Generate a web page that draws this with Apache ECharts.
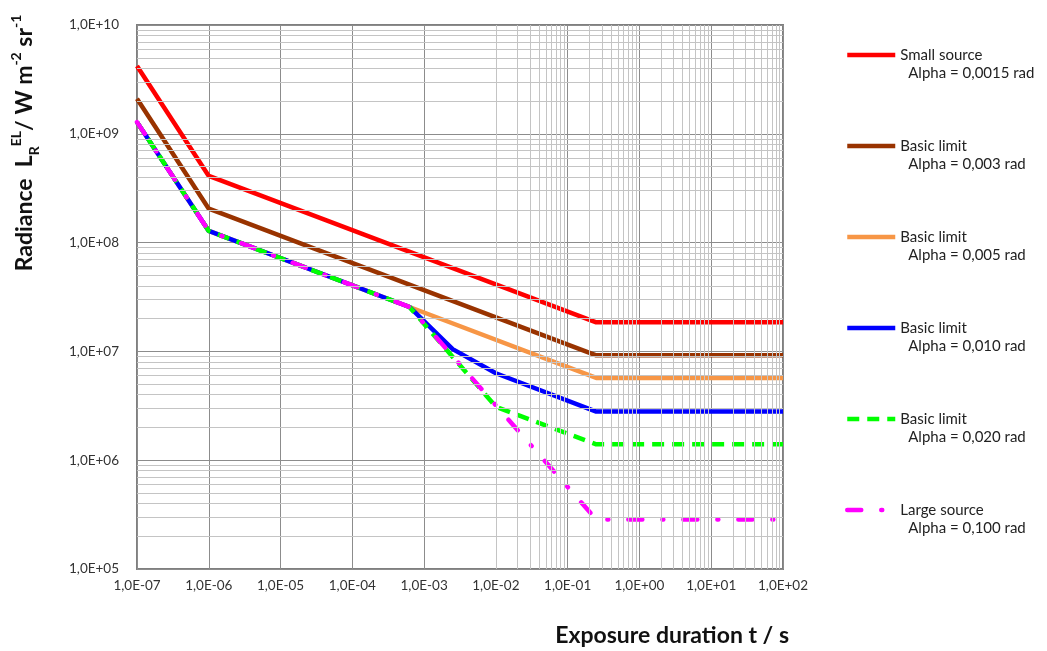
<!DOCTYPE html>
<html>
<head>
<meta charset="utf-8">
<script src="https://cdn.jsdelivr.net/npm/echarts@6/dist/echarts.min.js"></script>
<style>
  html, body { margin: 0; padding: 0; background: #fff; }
  #chart { width: 1047px; height: 651px; }
</style>
</head>
<body>
<div id="chart"></div>
<script>
// exposure duration (s) and radiance (W m-2 sr-1)
var tRed = [1e-7, 1e-6, 0.25, 100];
var lRed = [4.2e9, 4.1e8, 1.85e7, 1.85e7];
var tBrown = [1e-7, 1e-6, 0.25, 100];
var lBrown = [2.1e9, 2.05e8, 9.2e6, 9.2e6];
var tOrange = [1e-7, 1e-6, 6.25e-4, 0.25, 100];
var lOrange = [1.28e9, 1.28e8, 2.56e7, 5.7e6, 5.7e6];
var tBlue = [1e-7, 1e-6, 6.25e-4, 2.5e-3, 1e-2, 0.25, 100];
var lBlue = [1.28e9, 1.28e8, 2.56e7, 1.05e7, 6.3e6, 2.8e6, 2.8e6];
var tGreen = [1e-7, 1e-6, 6.25e-4, 1e-2, 0.25, 100];
var lGreen = [1.28e9, 1.28e8, 2.56e7, 3.1e6, 1.4e6, 1.4e6];
var tMagenta = [1e-7, 1e-6, 6.25e-4, 0.25, 100];
var lMagenta = [1.28e9, 1.28e8, 2.56e7, 2.85e5, 2.85e5];

var names = ['Small source', 'Basic limit', 'Basic limit ', 'Basic limit  ', 'Basic limit   ', 'Large source'];
var alphas = ['Alpha = 0,0015 rad', 'Alpha = 0,003 rad', 'Alpha = 0,005 rad', 'Alpha = 0,010 rad', 'Alpha = 0,020 rad', 'Alpha = 0,100 rad'];
var colors = ['#ff0000', '#993300', '#f79646', '#0000ff', '#00ff00', '#ff00ff'];

var xDecades = [-7, -6, -5, -4, -3, -2, -1, 0, 1];
var yDecades = [5, 6, 7, 8, 9];

function pairs(t, l) {
    return t.map(function (v, i) { return [v, l[i]]; });
}

function fmtExp(v) {
    var e = Math.round(Math.log10(v));
    var s = e < 0 ? '-' : '+';
    var a = Math.abs(e);
    return '1,0E' + s + (a < 10 ? '0' + a : a);
}

// minor log grid lines (2..9 within each decade)
var gridLines = [];
xDecades.forEach(function (d) {
    for (var m = 2; m <= 9; m++) gridLines.push({ xAxis: m * Math.pow(10, d) });
});
yDecades.forEach(function (d) {
    for (var m = 2; m <= 9; m++) gridLines.push({ yAxis: m * Math.pow(10, d) });
});

var font = 'Lato, "Open Sans", sans-serif';

function lineSeries(i, t, l, style) {
    return {
        name: names[i],
        type: 'line',
        data: pairs(t, l),
        symbol: 'none',
        z: 3,
        lineStyle: Object.assign({ color: colors[i], width: 4.5 }, style || {}),
        itemStyle: { color: colors[i] },
        animation: false
    };
}

var dom = document.getElementById('chart');
var myChart = echarts.init(dom, null, { renderer: 'canvas' });

var option = {
    backgroundColor: '#fff',
    animation: false,
    grid: {
        left: 137, top: 25, right: 264, bottom: 82,
        show: true, borderColor: '#7f7f7f', borderWidth: 2,
        backgroundColor: '#fff'
    },
    xAxis: {
        type: 'log', logBase: 10, min: 1e-7, max: 100,
        axisLine: { show: false },
        axisTick: { show: false },
        axisLabel: { formatter: fmtExp, fontFamily: font, fontSize: 13.5, color: '#333', margin: 10 },
        splitLine: { show: true, lineStyle: { color: '#8c8c8c', width: 1 } }
    },
    yAxis: {
        type: 'log', logBase: 10, min: 1e5, max: 1e10,
        axisLine: { show: false },
        axisTick: { show: false },
        axisLabel: { formatter: fmtExp, fontFamily: font, fontSize: 13.5, color: '#333', margin: 18 },
        splitLine: { show: true, lineStyle: { color: '#8c8c8c', width: 1 } }
    },
    legend: {
        orient: 'vertical',
        left: 845, top: 28,
        padding: 0,
        itemGap: 37,
        itemWidth: 48, itemHeight: 14,
        data: names,
        itemStyle: { opacity: 0 },
        lineStyle: { width: 4.5 },
        formatter: function (name) {
            var i = names.indexOf(name);
            return '{a|' + name.trim() + '}\n{b|' + alphas[i] + '}';
        },
        textStyle: {
            fontFamily: font, fontSize: 15, color: '#222', lineHeight: 18,
            padding: [18, 0, 0, 0],
            rich: {
                a: { fontFamily: font, fontSize: 15, color: '#222', lineHeight: 18 },
                b: { fontFamily: font, fontSize: 15, color: '#222', lineHeight: 18, padding: [0, 0, 0, 8] }
            }
        }
    },
    graphic: [
        {
            type: 'text', x: 25, y: 143, rotation: Math.PI / 2,
            style: {
                text: 'Radiance  L{sub|R}{sup|EL}/ W m{sup|-2} sr{sup|-1}',
                font: 'bold 23px ' + font, fill: '#111',
                align: 'center', verticalAlign: 'middle',
                rich: {
                    sub: { fontFamily: font, fontWeight: 'bold', fontSize: 14, fill: '#111', verticalAlign: 'bottom', lineHeight: 32 },
                    sup: { fontFamily: font, fontWeight: 'bold', fontSize: 14, fill: '#111', verticalAlign: 'top', lineHeight: 32 }
                }
            }
        },
        {
            type: 'text', x: 789, y: 636,
            style: {
                text: 'Exposure duration t / s',
                font: 'bold 23px ' + font, fill: '#111',
                align: 'right', verticalAlign: 'middle'
            }
        }
    ],
    series: [
        {
            name: 'grid',
            type: 'line',
            data: [],
            silent: true,
            z: 1,
            markLine: {
                silent: true,
                symbol: 'none',
                label: { show: false },
                animation: false,
                lineStyle: { color: '#c4c4c4', width: 1, type: 'solid' },
                emphasis: { disabled: true },
                data: gridLines
            }
        },
        lineSeries(0, tRed, lRed),
        lineSeries(1, tBrown, lBrown),
        lineSeries(2, tOrange, lOrange),
        lineSeries(3, tBlue, lBlue),
        lineSeries(4, tGreen, lGreen, { type: [12, 8] }),
        lineSeries(5, tMagenta, lMagenta, { type: [14, 20, 1, 20], cap: 'round' })
    ]
};

myChart.setOption(option);
window.addEventListener('resize', myChart.resize);
</script>
</body>
</html>
